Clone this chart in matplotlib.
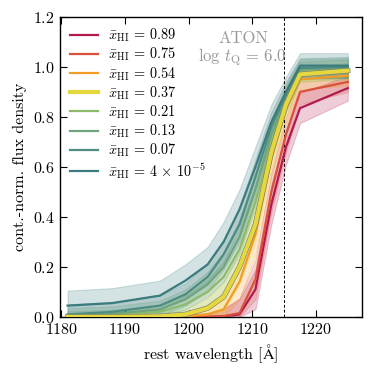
import numpy as np
import matplotlib
matplotlib.use("Agg")
import matplotlib.pyplot as plt
import matplotlib.patheffects as pe

plt.rcParams["font.family"] = "serif"
plt.rcParams["font.serif"] = ["cmr10"]
plt.rcParams["mathtext.fontset"] = "cm"
plt.rcParams["axes.formatter.use_mathtext"] = True
plt.rcParams["axes.unicode_minus"] = False

# wavelength grid [A]
wave = [1181, 1188, 1195.5, 1199.5, 1203, 1205.5, 1208, 1210.5, 1213, 1215.3, 1217.5, 1225]

labels = [r"$\bar{x}_{\rm HI}\,=\,0.89$", r"$\bar{x}_{\rm HI}\,=\,0.75$", r"$\bar{x}_{\rm HI}\,=\,0.54$",
          r"$\bar{x}_{\rm HI}\,=\,0.37$", r"$\bar{x}_{\rm HI}\,=\,0.21$", r"$\bar{x}_{\rm HI}\,=\,0.13$",
          r"$\bar{x}_{\rm HI}\,=\,0.07$", r"$\bar{x}_{\rm HI}\,=\,4\,\times\,10^{-5}$"]
colors = ["#b3194e", "#d9503b", "#f39c25", "#e5d83c", "#8cbb6c", "#6fa47c", "#4d8d80", "#3b7b7e"]

# median flux per xHI
flux_089 = [0.0, 0.0, 0.0, 0.0, 0.0, 0.002, 0.01, 0.11, 0.45, 0.68, 0.835, 0.915]
flux_075 = [0.0, 0.0, 0.0, 0.0, 0.0, 0.003, 0.015, 0.15, 0.50, 0.73, 0.90, 0.94]
flux_054 = [0.0, 0.0, 0.0, 0.002, 0.01, 0.03, 0.14, 0.33, 0.63, 0.83, 0.95, 0.965]
flux_037 = [0.0, 0.0, 0.002, 0.01, 0.035, 0.08, 0.20, 0.37, 0.66, 0.85, 0.97, 0.985]
flux_021 = [0.003, 0.008, 0.02, 0.05, 0.10, 0.16, 0.27, 0.46, 0.70, 0.87, 0.98, 0.99]
flux_013 = [0.006, 0.012, 0.03, 0.07, 0.13, 0.20, 0.32, 0.51, 0.73, 0.88, 0.99, 0.995]
flux_007 = [0.01, 0.02, 0.045, 0.09, 0.16, 0.25, 0.37, 0.56, 0.76, 0.89, 0.995, 1.0]
flux_000 = [0.045, 0.055, 0.085, 0.145, 0.21, 0.30, 0.43, 0.60, 0.78, 0.90, 1.005, 1.005]

# half width of the scatter band
err_089 = [0.005, 0.005, 0.005, 0.008, 0.015, 0.03, 0.06, 0.08, 0.08, 0.07, 0.06, 0.05]
err_075 = [0.005, 0.005, 0.005, 0.008, 0.015, 0.03, 0.06, 0.08, 0.08, 0.07, 0.05, 0.04]
err_054 = [0.005, 0.005, 0.008, 0.01, 0.03, 0.05, 0.07, 0.08, 0.07, 0.06, 0.04, 0.04]
err_037 = [0.005, 0.006, 0.01, 0.02, 0.04, 0.06, 0.07, 0.07, 0.06, 0.05, 0.03, 0.03]
err_021 = [0.02, 0.02, 0.025, 0.035, 0.05, 0.06, 0.07, 0.07, 0.06, 0.05, 0.04, 0.04]
err_013 = [0.03, 0.03, 0.035, 0.04, 0.05, 0.06, 0.07, 0.07, 0.06, 0.05, 0.04, 0.04]
err_007 = [0.04, 0.04, 0.04, 0.045, 0.055, 0.06, 0.07, 0.07, 0.06, 0.05, 0.04, 0.04]
err_000 = [0.06, 0.06, 0.06, 0.065, 0.07, 0.08, 0.08, 0.08, 0.07, 0.06, 0.05, 0.05]

fluxes = [flux_089, flux_075, flux_054, flux_037, flux_021, flux_013, flux_007, flux_000]
errs = [err_089, err_075, err_054, err_037, err_021, err_013, err_007, err_000]

fig = plt.figure(figsize=(3.73, 3.75), dpi=100)
ax = fig.add_axes([0.16, 0.155, 0.81, 0.80])

w = np.array(wave)
for i in range(len(fluxes)):
    f = np.array(fluxes[i])
    e = np.array(errs[i])
    ax.fill_between(w, np.clip(f - e, 0, None), f + e, color=colors[i], alpha=0.22, lw=0.8)

for i in range(len(fluxes)):
    if i == 3:
        ax.plot(w, fluxes[i], c=colors[i], lw=3, label=labels[i], zorder=5,
                path_effects=[pe.Stroke(linewidth=3.8, foreground="#777777"), pe.Normal()])
    else:
        ax.plot(w, fluxes[i], c=colors[i], lw=1.6, label=labels[i], zorder=4)

ax.axvline(1215, c="k", ls="--", lw=0.7, dashes=(3, 2))
ax.text(1208.6, 1.115, "ATON", color="#999999", fontsize=12, ha="center", va="center")
ax.text(1208.5, 1.04, r"$\log\,t_{\rm Q}\,=\,6.0$", color="#999999", fontsize=12, ha="center", va="center")

ax.set_xlim(1179.76, 1227.2)
ax.set_ylim(0, 1.2)
ax.set_xticks([1180, 1190, 1200, 1210, 1220])
ax.set_yticks([0.0, 0.2, 0.4, 0.6, 0.8, 1.0, 1.2])
ax.tick_params(direction="in", top=True, right=True, length=5, width=0.8, labelsize=11.5)
for s in ax.spines.values():
    s.set_linewidth(1.0)
ax.set_xlabel(r"rest wavelength [$\rm\AA$]", fontsize=11.5)
ax.set_ylabel("cont.-norm. flux density", fontsize=11.5)

leg = ax.legend(loc="upper left", frameon=False, fontsize=10.3, handlelength=2.0,
                handletextpad=0.65, labelspacing=0.12, borderaxespad=0.3)
for line in leg.get_lines():
    line.set_path_effects([])

fig.savefig("out.png", dpi=100)
